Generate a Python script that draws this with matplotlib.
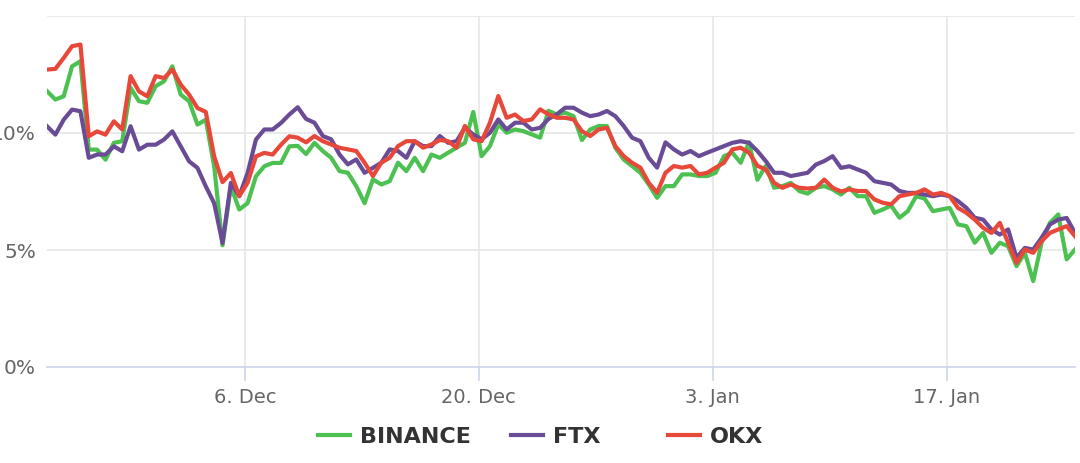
import numpy as np
import pandas as pd
import matplotlib
matplotlib.use("Agg")
from matplotlib import pyplot as plt
from matplotlib.ticker import FixedLocator, FuncFormatter

# 12-hourly samples (percent)
start = "2021-11-24 04:00"
n_points = 124

binance = [11.79, 11.43, 11.57, 12.85, 13.07, 9.29, 9.29, 8.86, 9.58, 9.65,
           11.93, 11.36, 11.29, 12.0, 12.21, 12.85, 11.64, 11.36, 10.36, 10.57,
           8.58, 5.2, 7.72, 6.73, 7.0, 8.15, 8.58, 8.72, 8.72, 9.43,
           9.45, 9.1, 9.58, 9.23, 8.94, 8.37, 8.3, 7.73, 7.0, 8.02,
           7.8, 7.94, 8.73, 8.37, 8.94, 8.37, 9.08, 8.94, 9.16, 9.37,
           9.58, 10.9, 9.01, 9.44, 10.37, 10.01, 10.15, 10.08, 9.94, 9.8,
           10.95, 10.79, 10.87, 10.72, 9.7, 10.15, 10.3, 10.3, 9.37, 8.87,
           8.59, 8.3, 7.8, 7.23, 7.73, 7.73, 8.23, 8.23, 8.16, 8.16,
           8.3, 9.01, 9.16, 8.73, 9.6, 8.0, 8.59, 7.66, 7.73, 7.87,
           7.52, 7.41, 7.66, 7.73, 7.59, 7.37, 7.66, 7.3, 7.3, 6.59,
           6.73, 6.9, 6.38, 6.66, 7.3, 7.2, 6.66, 6.73, 6.8, 6.09,
           6.02, 5.31, 5.73, 4.88, 5.31, 5.16, 4.31, 4.88, 3.67, 5.31,
           6.16, 6.52, 4.6, 5.02]

ftx = [10.29, 9.93, 10.57, 11.0, 10.93, 8.94, 9.08, 9.08, 9.43, 9.22,
       10.29, 9.29, 9.5, 9.5, 9.72, 10.07, 9.43, 8.79, 8.51, 7.72,
       7.0, 5.3, 7.87, 7.3, 8.29, 9.72, 10.15, 10.15, 10.43, 10.79,
       11.1, 10.6, 10.44, 9.87, 9.73, 9.08, 8.66, 8.87, 8.3, 8.51,
       8.73, 9.3, 9.23, 8.94, 9.65, 9.44, 9.44, 9.87, 9.58, 9.65,
       10.22, 9.94, 9.73, 10.01, 10.58, 10.15, 10.44, 10.44, 10.15, 10.22,
       10.6, 10.8, 11.08, 11.08, 10.87, 10.72, 10.79, 10.94, 10.72, 10.3,
       9.8, 9.65, 8.94, 8.52, 9.6, 9.3, 9.08, 9.23, 9.01, 9.16,
       9.3, 9.44, 9.58, 9.65, 9.58, 9.23, 8.8, 8.3, 8.3, 8.16,
       8.23, 8.3, 8.65, 8.8, 9.01, 8.51, 8.58, 8.44, 8.3, 7.94,
       7.87, 7.8, 7.52, 7.44, 7.44, 7.37, 7.3, 7.37, 7.3, 7.09,
       6.8, 6.38, 6.3, 5.88, 5.66, 5.88, 4.67, 5.09, 5.02, 5.52,
       6.09, 6.3, 6.37, 5.73]

okx = [12.71, 12.74, 13.21, 13.71, 13.78, 9.86, 10.07, 9.93, 10.5, 10.15,
       12.43, 11.78, 11.57, 12.43, 12.35, 12.71, 12.07, 11.64, 11.07, 10.9,
       9.0, 7.9, 8.29, 7.3, 7.87, 9.0, 9.15, 9.08, 9.5, 9.86,
       9.8, 9.6, 9.87, 9.65, 9.51, 9.37, 9.3, 9.23, 8.73, 8.16,
       8.73, 8.94, 9.44, 9.65, 9.65, 9.37, 9.51, 9.7, 9.65, 9.37,
       10.3, 9.73, 9.65, 10.44, 11.58, 10.65, 10.79, 10.51, 10.58, 11.01,
       10.8, 10.65, 10.65, 10.58, 10.08, 9.87, 10.15, 10.22, 9.44, 9.01,
       8.73, 8.52, 7.87, 7.45, 8.3, 8.59, 8.52, 8.59, 8.23, 8.3,
       8.52, 8.73, 9.3, 9.37, 9.16, 8.6, 8.44, 7.87, 7.66, 7.8,
       7.66, 7.63, 7.66, 8.01, 7.66, 7.5, 7.59, 7.52, 7.52, 7.16,
       7.02, 6.95, 7.3, 7.37, 7.44, 7.59, 7.37, 7.44, 7.3, 6.8,
       6.59, 6.3, 5.95, 5.73, 6.16, 5.31, 4.45, 5.02, 4.88, 5.38,
       5.73, 5.88, 6.02, 5.59]

series_names = ["BINANCE", "FTX", "OKX"]
series_colors = ["#4cc152", "#6a4c96", "#e8483a"]
tick_dates = ["2021-12-06", "2021-12-20", "2022-01-03", "2022-01-17"]
tick_labels = ["6. Dec", "20. Dec", "3. Jan", "17. Jan"]
y_ticks = [0, 5, 10, 15]

dates = pd.date_range(start, periods=n_points, freq="12h")

fig = plt.figure(figsize=(10.8, 4.63), dpi=100)
ax = fig.add_axes([47 / 1080, 1 - 367 / 463, 1028 / 1080, 351 / 463])

lines = []
for vals, name, col in zip([binance, ftx, okx], series_names, series_colors):
    ln, = ax.plot(dates, vals, color=col, lw=3, label=name, solid_joinstyle="round")
    lines.append(ln)

ax.set_xlim(dates[0], dates[-1])
ax.set_ylim(0, 15)

ax.yaxis.set_major_locator(FixedLocator(y_ticks))
ax.yaxis.set_major_formatter(FuncFormatter(lambda v, p: "" if v >= 15 else f"{v:.0f}%"))
ax.set_xticks(pd.to_datetime(tick_dates))
ax.set_xticklabels(tick_labels)

ax.grid(True, color="#e6e6e6", lw=1.2)
ax.set_axisbelow(True)
for s in ["top", "right", "left"]:
    ax.spines[s].set_visible(False)
ax.spines["bottom"].set_color("#ccd6eb")
ax.spines["bottom"].set_linewidth(1.2)

ax.tick_params(axis="y", length=0, pad=8, labelsize=14.5, labelcolor="#666666")
ax.tick_params(axis="x", length=10, width=1.2, color="#ccd6eb", pad=5,
               labelsize=14, labelcolor="#666666")

# legend items placed one by one (uneven spacing like the original)
legend_x = [318, 511, 668]
for ln, lx in zip(lines, legend_x):
    leg = fig.legend(handles=[ln], loc="center left",
                     bbox_to_anchor=(lx / 1080, 1 - 437 / 463),
                     frameon=False, borderpad=0, borderaxespad=0,
                     handlelength=1.45, handletextpad=0.45,
                     prop={"weight": "bold", "size": 16})
    for t in leg.get_texts():
        t.set_color("#333333")

fig.savefig("out.png", dpi=100)
